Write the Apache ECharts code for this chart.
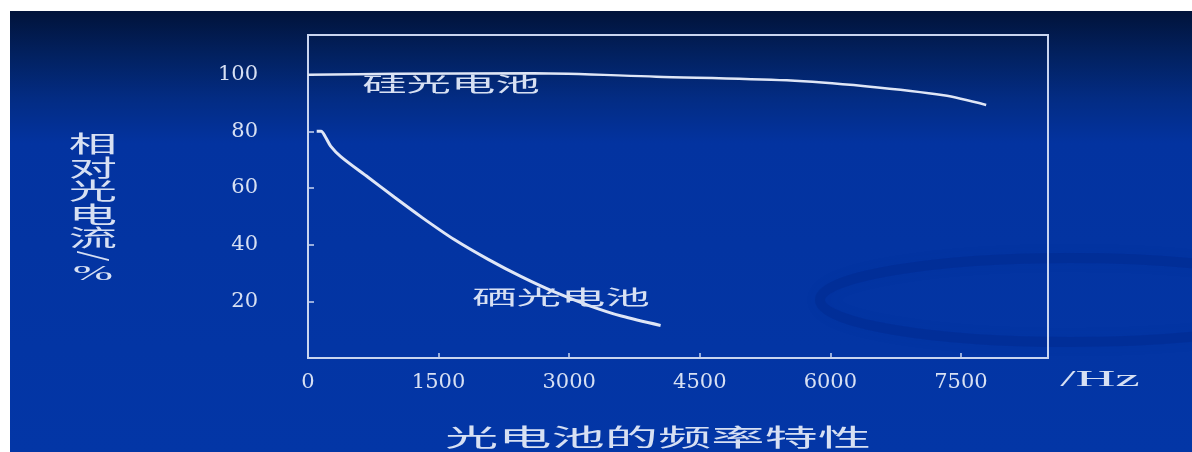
<!DOCTYPE html>
<html>
<head>
<meta charset="utf-8">
<script src="https://cdn.jsdelivr.net/npm/echarts@6/dist/echarts.min.js"></script>
<style>
html,body{margin:0;padding:0;background:#ffffff;}
#chart{width:1192px;height:452px;}
</style>
</head>
<body>
<div id="chart"></div>
<script>
// ---- data ----
const xTickValues = [0, 1500, 3000, 4500, 6000, 7500];
const xTickMarks = [1500, 3000, 4500, 6000, 7500];
const yTickValues = [20, 40, 60, 80, 100];

const siFreq = [0, 1000, 2600, 4000, 5500, 6400, 7300, 7790];
const siValue = [100.0, 100.3, 100.5, 99.3, 98.0, 95.9, 92.7, 89.3];

const seFreq = [100, 150, 200, 260, 380, 690, 990, 1300, 1680, 2070, 2450, 2830, 3220, 3600, 4050];
const seValue = [80, 80, 78.0, 74.8, 71.0, 63.8, 56.8, 49.8, 41.8, 34.8, 28.7, 23.3, 18.6, 14.8, 11.5];

const siName = '硅光电池';
const seName = '硒光电池';
const chartTitle = '光电池的频率特性';
const yNameChars = '相\n对\n光\n电\n流';
const yNameSlash = '/';
const yNamePct = '%';
const xName = '/Hz';

// ---- chart ----
const chart = echarts.init(document.getElementById('chart'));
const lineColor = '#dfe6f6';
const axisColor = '#c9d5f0';
const textColor = '#d7e0f3';
const cjkFont = '"Noto Sans CJK SC", sans-serif';

function pairs(xs, ys) { return xs.map((x, i) => [x, ys[i]]); }

const option = {
  animation: false,
  backgroundColor: 'transparent',
  grid: {
    left: 308, right: 144, top: 35, bottom: 94,
    show: true, borderColor: axisColor, borderWidth: 2,
    backgroundColor: 'transparent'
  },
  xAxis: {
    type: 'value', min: 0, max: 8500,
    axisLine: { show: false },
    splitLine: { show: false },
    axisTick: { show: true, inside: true, length: 5, customValues: xTickMarks,
      lineStyle: { color: axisColor, width: 1.5 } },
    axisLabel: { customValues: xTickValues, margin: 14, color: textColor,
      formatter: v => String(v),
      fontFamily: '"DejaVu Serif", serif', fontSize: 21 }
  },
  yAxis: {
    type: 'value', min: 0, max: 114,
    axisLine: { show: false },
    splitLine: { show: false },
    axisTick: { show: true, inside: true, length: 6, customValues: yTickValues,
      lineStyle: { color: axisColor, width: 1.5 } },
    axisLabel: { customValues: yTickValues, margin: 50, color: textColor,
      formatter: v => String(v),
      fontFamily: '"DejaVu Serif", serif', fontSize: 21 }
  },
  series: [
    { name: siName, type: 'line', data: pairs(siFreq, siValue), smooth: 0.3,
      showSymbol: false, lineStyle: { color: lineColor, width: 2.5 } },
    { name: seName, type: 'line', data: pairs(seFreq, seValue), smooth: 0.3,
      showSymbol: false, lineStyle: { color: lineColor, width: 3 } }
  ],
  graphic: [
    { type: 'rect', z: -100, silent: true,
      shape: { x: 10, y: 11, width: 1182, height: 441 },
      style: { fill: new echarts.graphic.LinearGradient(0, 0, 0, 1, [
        { offset: 0, color: '#01133a' },
        { offset: 0.1, color: '#022160' },
        { offset: 0.2, color: '#032c84' },
        { offset: 0.3, color: '#0333a0' },
        { offset: 1, color: '#0336a6' }
      ]) } },
    { type: 'ellipse', z: -90, silent: true,
      shape: { cx: 1070, cy: 300, rx: 250, ry: 42 },
      style: { fill: 'none', stroke: 'rgba(0,30,110,0.18)', lineWidth: 10,
        shadowBlur: 14, shadowColor: 'rgba(0,25,100,0.25)' } },
    { type: 'text', z: 10, x: 451, y: 84, scaleX: 2.22,
      style: { text: siName, fill: textColor, font: '20px ' + cjkFont,
        align: 'center', verticalAlign: 'middle' } },
    { type: 'text', z: 10, x: 561, y: 297, scaleX: 2.22,
      style: { text: seName, fill: textColor, font: '20px ' + cjkFont,
        align: 'center', verticalAlign: 'middle' } },
    { type: 'text', z: 10, x: 658, y: 437, scaleX: 2.22,
      style: { text: chartTitle, fill: textColor, font: '24px ' + cjkFont,
        align: 'center', verticalAlign: 'middle' } },
    { type: 'text', z: 10, x: 93, y: 132, scaleX: 2.1,
      style: { text: yNameChars, fill: textColor, font: '23px ' + cjkFont,
        lineHeight: 23.5, align: 'center', verticalAlign: 'top' } },
    { type: 'group', z: 10, x: 90, y: 256, scaleX: 2.0,
      children: [
        { type: 'text', rotation: -Math.PI / 2, scaleX: 1.5,
          style: { text: yNameSlash, fill: textColor, font: '24px "Liberation Serif", serif',
            align: 'center', verticalAlign: 'middle' } }
      ] },
    { type: 'text', z: 10, x: 93, y: 274, scaleX: 2.2,
      style: { text: yNamePct, fill: textColor, font: '22px "Liberation Serif", serif',
        align: 'center', verticalAlign: 'middle' } },
    { type: 'text', z: 10, x: 1100, y: 380, scaleX: 2.4,
      style: { text: xName, fill: textColor, font: '23px "Liberation Serif", serif',
        align: 'center', verticalAlign: 'middle' } }
  ]
};
chart.setOption(option);
</script>
</body>
</html>
